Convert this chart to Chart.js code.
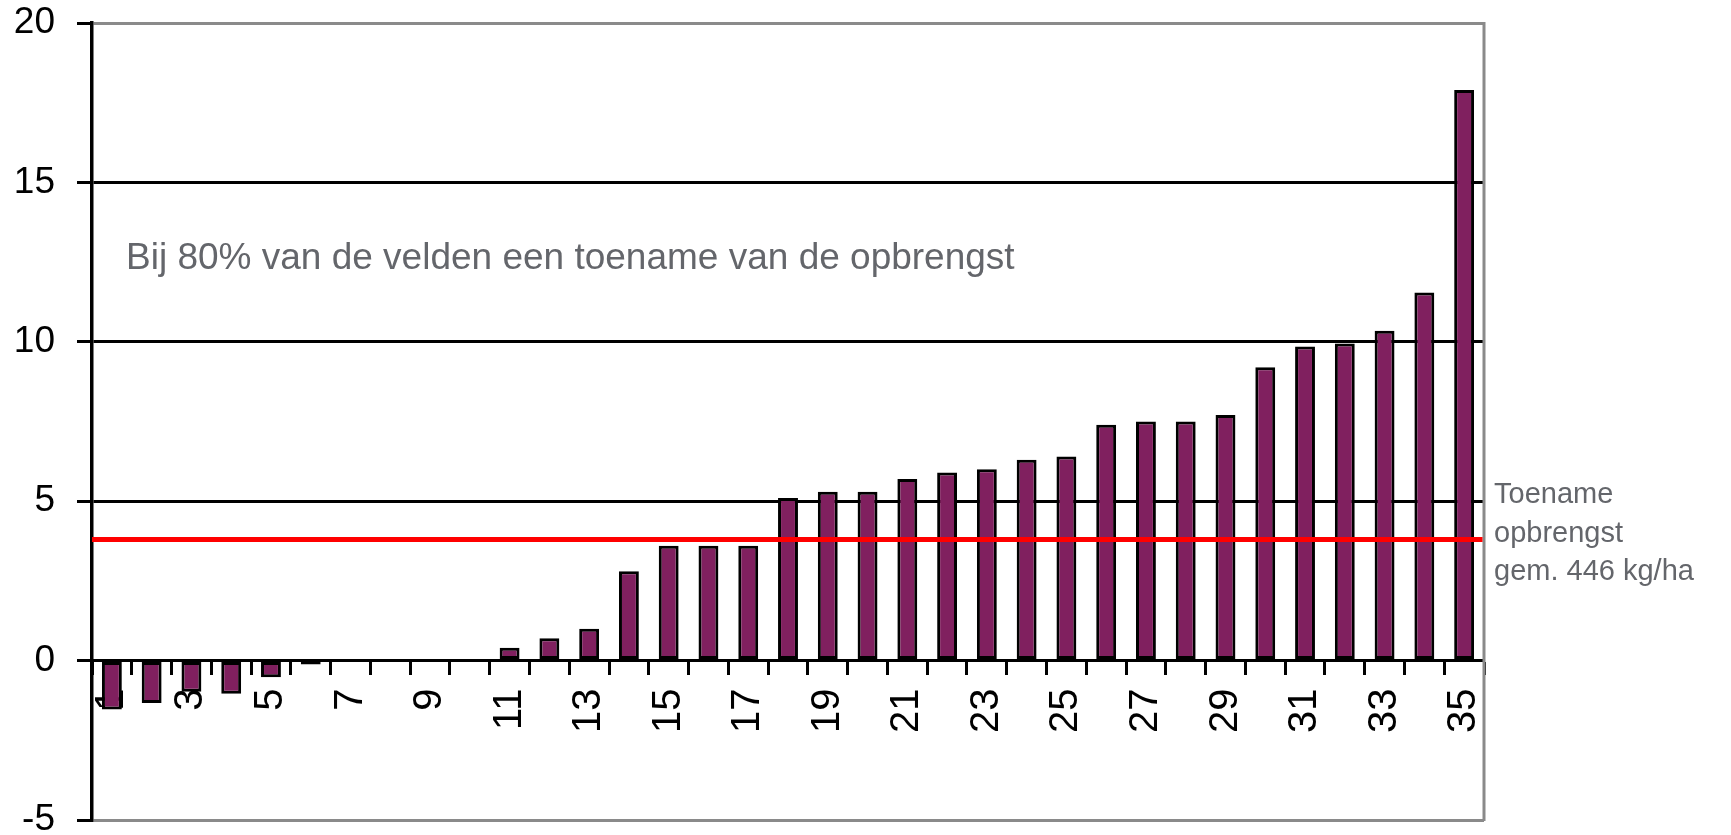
<!DOCTYPE html>
<html>
<head>
<meta charset="utf-8">
<script src="https://cdn.jsdelivr.net/npm/chart.js@4/dist/chart.umd.min.js"></script>
<style>
  html, body { margin: 0; padding: 0; background: #ffffff; }
  #wrap { position: relative; width: 1731px; height: 835px; }
</style>
</head>
<body>
<div id="wrap"><canvas id="c" width="1731" height="835"></canvas></div>
<script>
// ---- data ----
const categories = ['1','2','3','4','5','6','7','8','9','10','11','12','13','14','15','16','17','18','19','20','21','22','23','24','25','26','27','28','29','30','31','32','33','34','35'];
const gainValues = [-1.53, -1.33, -0.98, -1.04, -0.52, -0.12, 0, 0, 0, 0, 0.4, 0.7, 1.0, 2.8, 3.6, 3.6, 3.6, 5.1, 5.3, 5.3, 5.7, 5.9, 6.0, 6.3, 6.4, 7.4, 7.5, 7.5, 7.7, 9.2, 9.85, 9.95, 10.35, 11.55, 17.9];
const averageGain = 3.8;
const yTicks = [-5, 0, 5, 10, 15, 20];
const mainNote = 'Bij 80% van de velden een toename van de opbrengst';
const averageNote = ['Toename', 'opbrengst', 'gem. 446 kg/ha'];

const FONT = "'Liberation Sans', Arial, sans-serif";
const NOTE_GREY = '#64666b';

const overlayPlugin = {
  id: 'overlay',
  afterDatasetsDraw(chart) {
    const { ctx, chartArea, scales } = chart;
    ctx.save();
    // right frame line
    ctx.strokeStyle = '#8a8a8a';
    ctx.lineWidth = 3;
    ctx.beginPath();
    ctx.moveTo(chartArea.right, chartArea.top - 1);
    ctx.lineTo(chartArea.right, chartArea.bottom + 1);
    ctx.stroke();
    // average line
    const ya = scales.y.getPixelForValue(averageGain);
    ctx.strokeStyle = '#ff0000';
    ctx.lineWidth = 5;
    ctx.beginPath();
    ctx.moveTo(chartArea.left, ya);
    ctx.lineTo(chartArea.right - 1.5, ya);
    ctx.stroke();
    // notes
    ctx.fillStyle = NOTE_GREY;
    ctx.textAlign = 'left';
    ctx.textBaseline = 'alphabetic';
    ctx.font = '37px ' + FONT;
    ctx.fillText(mainNote, 126, 269);
    ctx.font = '29px ' + FONT;
    const baselines = [503, 541.5, 580];
    averageNote.forEach((t, i) => ctx.fillText(t, chartArea.right + 10, baselines[i]));
    ctx.restore();
  }
};

new Chart(document.getElementById('c'), {
  type: 'bar',
  data: {
    labels: categories,
    datasets: [{
      data: gainValues,
      backgroundColor: '#80205f',
      borderColor: '#000000',
      borderWidth: 3,
      borderSkipped: false,
      barPercentage: 0.5,
      categoryPercentage: 1.0
    }]
  },
  options: {
    responsive: false,
    animation: false,
    devicePixelRatio: 1,
    layout: { padding: { top: 23, bottom: 15, left: 0, right: 247 } },
    plugins: { legend: { display: false }, tooltip: { enabled: false } },
    scales: {
      x: {
        position: { y: 0 },
        offset: true,
        z: 1,
        grid: {
          offset: true,
          drawOnChartArea: false,
          drawTicks: true,
          tickLength: 13,
          tickWidth: 3,
          tickColor: '#000000',
          color: '#000000'
        },
        border: { display: true, color: '#000000', width: 3 },
        ticks: {
          autoSkip: false,
          maxRotation: 90,
          minRotation: 90,
          padding: 15,
          color: '#000000',
          font: { family: FONT, size: 40 },
          callback: function (val, index) { return index % 2 === 0 ? categories[index] : ''; }
        }
      },
      y: {
        min: -5,
        max: 20,
        afterBuildTicks: (scale) => { scale.ticks = yTicks.map(v => ({ value: v })); },
        afterFit: (scale) => { scale.width = 92; scale.paddingTop = 0; scale.paddingBottom = 0; },
        grid: {
          drawTicks: true,
          tickLength: 15,
          tickWidth: 3,
          tickColor: '#000000',
          lineWidth: 3,
          color: (c) => (c.tick && (c.tick.value === 20 || c.tick.value === -5)) ? '#8a8a8a' : '#000000'
        },
        border: { display: true, color: '#000000', width: 3.5 },
        ticks: {
          padding: 22,
          color: '#000000',
          font: { family: FONT, size: 37 }
        }
      }
    }
  },
  plugins: [overlayPlugin]
});
</script>
</body>
</html>
